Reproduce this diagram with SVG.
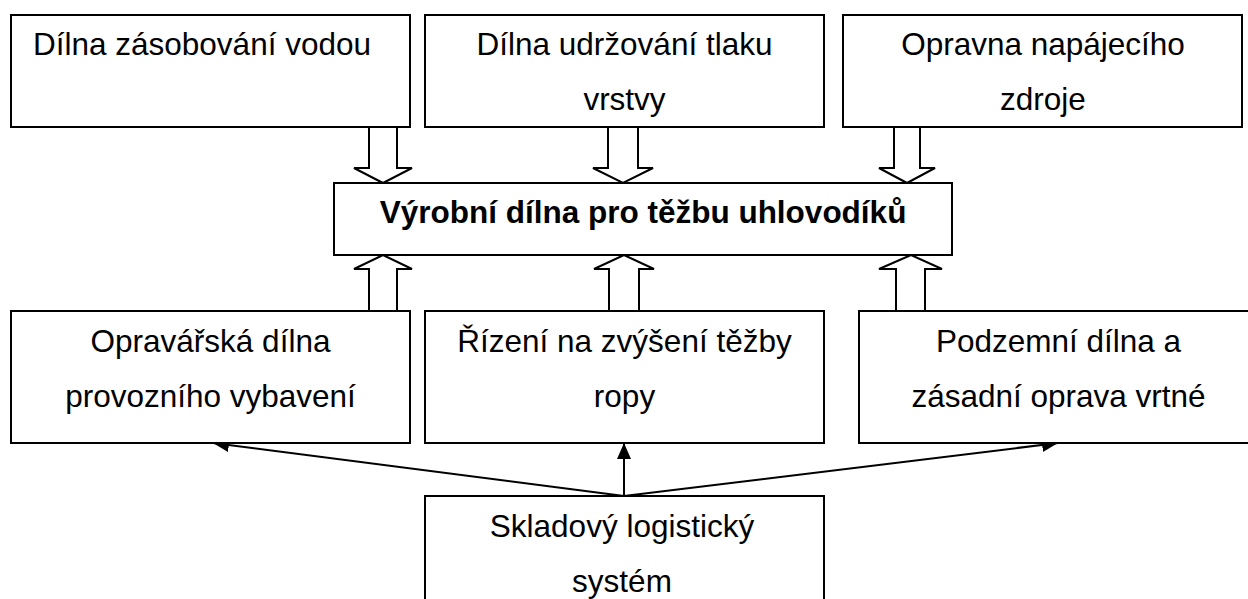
<svg xmlns="http://www.w3.org/2000/svg" width="1248" height="599" viewBox="0 0 1248 599">
<defs>
<style>
.box{fill:#fff;stroke:#000;stroke-width:2}
.t{font-family:"Liberation Sans",Arial,sans-serif;font-size:31.5px;fill:#000;text-anchor:middle}
.b{font-weight:bold}
.big{fill:#fff;stroke:#000;stroke-width:2;stroke-linejoin:miter}
.thin{fill:none;stroke:#000;stroke-width:2}
</style>
<marker id="ah" viewBox="0 0 10 10" refX="10" refY="5" markerWidth="8" markerHeight="8" markerUnits="userSpaceOnUse" orient="auto">
<path d="M0,0 L10,5 L0,10 z" fill="#000"/>
</marker>
<marker id="ah2" viewBox="0 0 16 14" refX="16" refY="7" markerWidth="16" markerHeight="14" markerUnits="userSpaceOnUse" orient="auto">
<path d="M0,0 L16,7 L0,14 z" fill="#000"/>
</marker>
</defs>
<rect width="1248" height="599" fill="#fff"/>
<g id="connectors">
<polygon class="big" points="369,127 397,127 397,168 412,168 383,183 354,168 369,168"/>
<polygon class="big" points="608,127 638,127 638,168 653,168 623,183 593,168 608,168"/>
<polygon class="big" points="894,127 920,127 920,168 935,168 907,183 879,168 894,168"/>
<polygon class="big" points="369,311 397,311 397,269 412,269 383,255 354,269 369,269"/>
<polygon class="big" points="609,311 639,311 639,269 654,269 624,255 594,269 609,269"/>
<polygon class="big" points="896,311 925,311 925,269 942,269 911,255 879,269 896,269"/>
<line class="thin" x1="624" y1="496" x2="213" y2="443" marker-end="url(#ah2)"/>
<line class="thin" x1="624" y1="496" x2="624" y2="443" marker-end="url(#ah2)"/>
<line class="thin" x1="624" y1="496" x2="1058" y2="443" marker-end="url(#ah2)"/>
</g>
<g id="n1"><rect class="box" x="11" y="15" width="399" height="112"/><text class="t" x="202" y="55">Dílna zásobování vodou</text></g>
<g id="n2"><rect class="box" x="425" y="15" width="399" height="112"/><text class="t" x="624.5" y="55">Dílna udržování tlaku</text><text class="t" x="624.5" y="110">vrstvy</text></g>
<g id="n3"><rect class="box" x="843" y="15" width="399" height="112"/><text class="t" x="1043" y="55">Opravna napájecího</text><text class="t" x="1043" y="110">zdroje</text></g>
<g id="center"><rect class="box" x="334" y="183" width="618" height="72"/><text class="t b" x="643" y="223">Výrobní dílna pro těžbu uhlovodíků</text></g>
<g id="n4"><rect class="box" x="11" y="311" width="399" height="132"/><text class="t" x="210.5" y="352">Opravářská dílna</text><text class="t" x="210.5" y="407">provozního vybavení</text></g>
<g id="n5"><rect class="box" x="425" y="311" width="399" height="132"/><text class="t" x="624.5" y="352">Řízení na zvýšení těžby</text><text class="t" x="624.5" y="407">ropy</text></g>
<g id="n6"><rect class="box" x="859" y="311" width="399" height="132"/><text class="t" x="1058.5" y="352">Podzemní dílna a</text><text class="t" x="1058.5" y="407">zásadní oprava vrtné</text></g>
<g id="n7"><rect class="box" x="425" y="496" width="399" height="120"/><text class="t" x="622" y="537">Skladový logistický</text><text class="t" x="622" y="592">systém</text></g>
</svg>
